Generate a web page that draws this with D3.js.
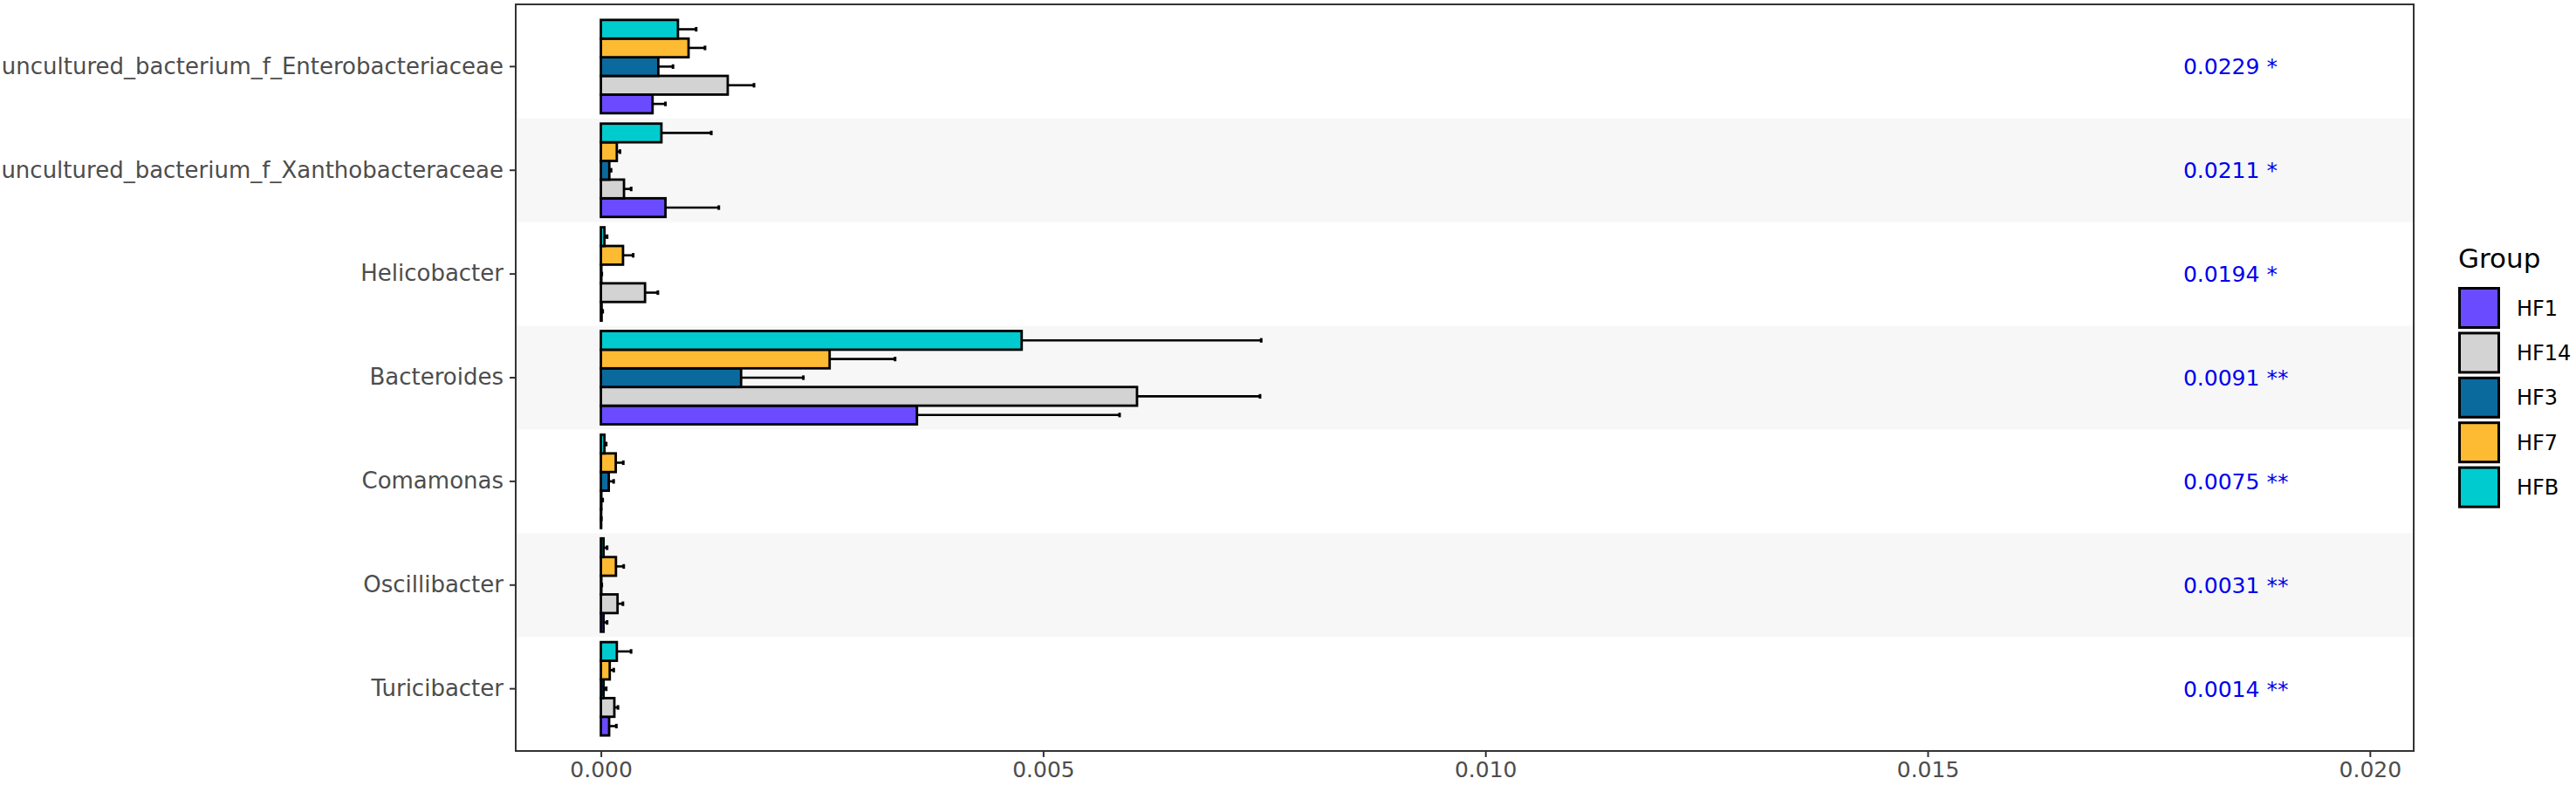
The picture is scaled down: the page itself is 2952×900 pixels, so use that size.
<!DOCTYPE html>
<html>
<head>
<meta charset="utf-8">
<script src="https://cdn.jsdelivr.net/npm/d3@7"></script>
<style>
  body { margin: 0; background: #fff; }
  text { font-family: "DejaVu Sans", sans-serif; }
</style>
</head>
<body>
<svg width="2952" height="900"></svg>
<script>
// data
const categories = [
    "uncultured_bacterium_f_Enterobacteriaceae",
    "uncultured_bacterium_f_Xanthobacteraceae",
    "Helicobacter",
    "Bacteroides",
    "Comamonas",
    "Oscillibacter",
    "Turicibacter"
];
const groups = ["HF1", "HF14", "HF3", "HF7", "HFB"];
const groupColors = ["#6A4BFF", "#D3D3D3", "#0A6A9E", "#FDBA33", "#00CCCF"];

const hf1Mean  = [0.000584, 0.00073, 0.000008, 0.003573, 0.000003, 0.00003, 0.000093];
const hf1Sd    = [0.000146, 0.000603, 0.000012, 0.002291, 0.000002, 0.00004, 0.000082];
const hf14Mean = [0.001434, 0.000261, 0.000499, 0.006061, 0.000005, 0.000188, 0.000152];
const hf14Sd   = [0.000297, 0.000081, 0.000145, 0.001391, 0.000015, 0.000061, 0.000041];
const hf3Mean  = [0.000649, 0.000095, 0.000005, 0.001585, 0.000089, 0.000005, 0.00003];
const hf3Sd    = [0.000166, 0.00002, 0.000005, 0.000704, 0.000055, 0.000005, 0.00003];
const hf7Mean  = [0.000991, 0.00018, 0.00025, 0.002586, 0.000168, 0.00017, 0.0001];
const hf7Sd    = [0.000186, 0.000036, 0.000115, 0.00074, 0.000085, 0.000088, 0.000045];
const hfbMean  = [0.000871, 0.000684, 0.00004, 0.004757, 0.00004, 0.00003, 0.00018];
const hfbSd    = [0.000206, 0.000564, 0.00003, 0.002708, 0.00002, 0.00004, 0.000161];

const pLabels = ["0.0229 *", "0.0211 *", "0.0194 *", "0.0091 **", "0.0075 **", "0.0031 **", "0.0014 **"];
const xTicks = [0, 0.005, 0.010, 0.015, 0.020];

const means = [hf1Mean, hf14Mean, hf3Mean, hf7Mean, hfbMean];
const sds = [hf1Sd, hf14Sd, hf3Sd, hf7Sd, hfbSd];

// layout
const svg = d3.select("svg");
const panel = {left: 591, right: 2766, top: 5, bottom: 861};
const pLabelX = 0.01789;

const x = d3.scaleLinear()
    .domain([-0.000963, 0.020495])
    .range([panel.left, panel.right]);

const step = (panel.bottom - panel.top) / (categories.length + 0.2);
const y = d3.scaleBand()
    .domain(categories)
    .range([panel.top + 0.1 * step, panel.bottom - 0.1 * step]);

// HFB on top, HF1 at the bottom of each band
const yInner = d3.scaleBand()
    .domain(groups.slice().reverse())
    .range([0.05 * step, 0.95 * step]);

const color = d3.scaleOrdinal().domain(groups).range(groupColors);

const rows = [];
groups.forEach((g, gi) => {
    categories.forEach((c, ci) => {
        rows.push({group: g, cat: c, mean: means[gi][ci], sd: sds[gi][ci]});
    });
});

drawStripes();
drawBars();
drawAxes();
drawPValues();
drawLegend();

/////////////HELPERS//////////////////

function drawStripes() {
    svg.append("rect")
        .attr("x", panel.left).attr("y", panel.top)
        .attr("width", panel.right - panel.left)
        .attr("height", panel.bottom - panel.top)
        .style("fill", "white");

    svg.append("g")
        .selectAll("rect")
        .data(categories.filter((c, i) => i % 2 === 1))
        .enter().append("rect")
        .attr("x", panel.left)
        .attr("y", (d) => y(d))
        .attr("width", panel.right - panel.left)
        .attr("height", y.bandwidth())
        .style("fill", "#F7F7F7");
}

function drawBars() {
    const g = svg.append("g");

    g.selectAll("line.err")
        .data(rows)
        .enter().append("line")
        .attr("class", "err")
        .attr("x1", (d) => x(d.mean))
        .attr("x2", (d) => x(d.mean + d.sd))
        .attr("y1", (d) => y(d.cat) + yInner(d.group) + yInner.bandwidth() / 2)
        .attr("y2", (d) => y(d.cat) + yInner(d.group) + yInner.bandwidth() / 2)
        .style("stroke", "black")
        .style("stroke-width", 2.6);

    g.selectAll("line.cap")
        .data(rows)
        .enter().append("line")
        .attr("class", "cap")
        .attr("x1", (d) => x(d.mean + d.sd))
        .attr("x2", (d) => x(d.mean + d.sd))
        .attr("y1", (d) => y(d.cat) + yInner(d.group) + yInner.bandwidth() / 2 - 2.6)
        .attr("y2", (d) => y(d.cat) + yInner(d.group) + yInner.bandwidth() / 2 + 2.6)
        .style("stroke", "black")
        .style("stroke-width", 3);

    g.selectAll("rect")
        .data(rows)
        .enter().append("rect")
        .attr("x", x(0))
        .attr("y", (d) => y(d.cat) + yInner(d.group))
        .attr("width", (d) => x(d.mean) - x(0))
        .attr("height", yInner.bandwidth())
        .style("fill", (d) => color(d.group))
        .style("stroke", "black")
        .style("stroke-width", 2.8);
}

function drawAxes() {
    svg.append("rect")
        .attr("x", panel.left).attr("y", panel.top)
        .attr("width", panel.right - panel.left)
        .attr("height", panel.bottom - panel.top)
        .style("fill", "none")
        .style("stroke", "#333333")
        .style("stroke-width", 2);

    const xAxis = svg.append("g")
        .attr("transform", `translate(0,${panel.bottom})`)
        .call(d3.axisBottom(x).tickValues(xTicks).tickFormat(d3.format(".3f"))
            .tickSize(7).tickPadding(5));
    xAxis.select(".domain").remove();
    xAxis.selectAll(".tick line").style("stroke", "#333333").style("stroke-width", 2);
    xAxis.selectAll("text")
        .style("font-size", "25px")
        .style("fill", "#4D4D4D");

    const yAxis = svg.append("g")
        .attr("transform", `translate(${panel.left},0)`)
        .call(d3.axisLeft(y).tickSize(7).tickPadding(7));
    yAxis.select(".domain").remove();
    yAxis.selectAll(".tick line").style("stroke", "#333333").style("stroke-width", 2);
    yAxis.selectAll("text")
        .style("font-size", "26px")
        .style("fill", "#4D4D4D");
}

function drawPValues() {
    svg.append("g")
        .selectAll("text")
        .data(pLabels)
        .enter().append("text")
        .attr("x", x(pLabelX))
        .attr("y", (d, i) => y(categories[i]) + y.bandwidth() / 2)
        .attr("dy", "0.36em")
        .style("font-size", "25px")
        .style("fill", "#0000EE")
        .text((d) => d);
}

function drawLegend() {
    const lx = 2817, ly = 329, key = 48, gap = 51.4;
    svg.append("text")
        .attr("x", lx)
        .attr("y", 307)
        .style("font-size", "31px")
        .style("fill", "black")
        .text("Group");

    const item = svg.append("g")
        .selectAll("g")
        .data(groups)
        .enter().append("g")
        .attr("transform", (d, i) => `translate(${lx},${ly + i * gap})`);

    item.append("rect")
        .attr("x", 1.5).attr("y", 1.5)
        .attr("width", key - 3).attr("height", key - 3)
        .style("fill", (d) => color(d))
        .style("stroke", "black")
        .style("stroke-width", 3);

    item.append("text")
        .attr("x", 67)
        .attr("y", key / 2)
        .attr("dy", "0.36em")
        .style("font-size", "24px")
        .style("fill", "black")
        .text((d) => d);
}
</script>
</body>
</html>
